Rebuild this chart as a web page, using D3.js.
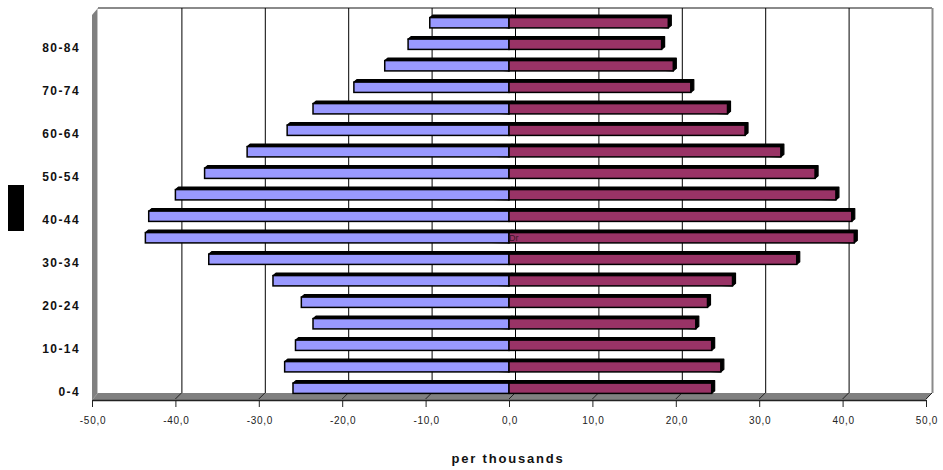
<!DOCTYPE html>
<html>
<head>
<meta charset="utf-8">
<script src="https://cdn.jsdelivr.net/npm/d3@7"></script>
<style>
  html, body { margin: 0; padding: 0; background: #fff; }
  svg { display: block; }
</style>
</head>
<body>
<svg id="chart" width="943" height="470"></svg>
<script>
// Age groups, youngest first
const ageGroups = ["0-4","5-9","10-14","15-19","20-24","25-29","30-34","35-39","40-44",
                   "45-49","50-54","55-59","60-64","65-69","70-74","75-79","80-84","85+"];
// Labelled age groups on the category axis
const ageLabels = ["0-4","10-14","20-24","30-34","40-44","50-54","60-64","70-74","80-84"];
// Males (drawn to the left, negative) per thousand
const males = [-25.9,-26.9,-25.6,-23.5,-24.9,-28.3,-36.0,-43.6,-43.2,
               -40.0,-36.5,-31.4,-26.6,-23.5,-18.6,-14.9,-12.1,-9.5];
// Females (drawn to the right) per thousand
const females = [24.3,25.4,24.3,22.4,23.8,26.8,34.5,41.4,41.1,
                 39.2,36.7,32.6,28.3,26.2,21.8,19.7,18.3,19.1];
// Value axis ticks
const xTicks = [-50,-40,-30,-20,-10,0,10,20,30,40,50];

const svg = d3.select("#chart");
const FONT = "'Liberation Sans', Arial, sans-serif";

// Front plane of the 3-D box and the depth offset to the back wall
const depth = { dx: 6, dy: -7 };
const x = d3.scaleLinear().domain([-50, 50]).range([92, 926]);
const y = d3.scaleBand().domain(ageGroups).range([402, 15]).paddingInner(0.52).paddingOuter(0.26);
const floorY = 400, topY = 15;
const fmt = v => d3.format(".1f")(v).replace(".", ",").replace("−", "-");

// Back wall outline
svg.append("line").attr("x1", x(-50) + depth.dx).attr("x2", x(50) + depth.dx)
  .attr("y1", topY + depth.dy).attr("y2", topY + depth.dy)
  .attr("stroke", "#8a8a8a").attr("stroke-width", 2);
svg.append("line").attr("x1", x(50) + depth.dx + 0.5).attr("x2", x(50) + depth.dx + 0.5)
  .attr("y1", topY + depth.dy).attr("y2", floorY + depth.dy)
  .attr("stroke", "#8a8a8a").attr("stroke-width", 2);

// Gridlines on the back wall
svg.append("g").selectAll("line").data(xTicks.slice(1, -1)).join("line")
  .attr("x1", d => x(d) + depth.dx + 0.5).attr("x2", d => x(d) + depth.dx + 0.5)
  .attr("y1", topY + depth.dy).attr("y2", floorY + depth.dy)
  .attr("stroke", "#000").attr("stroke-width", 1);

// Side wall
svg.append("polygon")
  .attr("points", [[x(-50), topY], [x(-50) + depth.dx, topY + depth.dy],
                   [x(-50) + depth.dx, floorY + depth.dy], [x(-50), floorY]].join(" "))
  .attr("fill", "#808080");
svg.append("line").attr("x1", x(-50) + depth.dx - 0.5).attr("x2", x(-50) + depth.dx - 0.5)
  .attr("y1", topY + depth.dy).attr("y2", floorY + depth.dy)
  .attr("stroke", "#c4c4c4").attr("stroke-width", 1);

// Floor
svg.append("polygon")
  .attr("points", [[x(-50), floorY], [x(-50) + depth.dx, floorY + depth.dy],
                   [x(50) + depth.dx, floorY + depth.dy], [x(50), floorY]].join(" "))
  .attr("fill", "#808080");

// Value axis line, ticks and the depth strokes across the floor
const axis = svg.append("g");
axis.append("line").attr("x1", x(-50)).attr("x2", x(50))
  .attr("y1", floorY + 0.5).attr("y2", floorY + 0.5)
  .attr("stroke", "#222").attr("stroke-width", 1.6);
axis.selectAll(".tick").data(xTicks).join("line")
  .attr("x1", d => x(d) + 0.5).attr("x2", d => x(d) + 0.5)
  .attr("y1", floorY).attr("y2", floorY + 7)
  .attr("stroke", "#222").attr("stroke-width", 1);
axis.selectAll(".slant").data(xTicks.slice(1)).join("line")
  .attr("x1", d => x(d)).attr("x2", d => x(d) + depth.dx)
  .attr("y1", floorY - 1).attr("y2", floorY + depth.dy)
  .attr("stroke", "#222").attr("stroke-width", 1);
axis.selectAll("text").data(xTicks).join("text")
  .attr("x", d => x(d) + 1).attr("y", 424)
  .attr("text-anchor", "middle")
  .attr("font-family", FONT).attr("font-size", 10).attr("letter-spacing", 0.7)
  .attr("fill", "#222")
  .text(fmt);

// Bars with their 3-D top and side faces
const bd = { dx: 3, dy: -2.5 };
const shift = -3;
function drawBars(values, color) {
  const g = svg.append("g");
  values.forEach((v, i) => {
    const c = ageGroups[i];
    const x0 = x(Math.min(0, v)), x1 = x(Math.max(0, v));
    const y0 = y(c) + shift, y1 = y0 + y.bandwidth();
    g.append("polygon")
      .attr("points", [[x0, y0], [x0 + bd.dx, y0 + bd.dy], [x1 + bd.dx, y0 + bd.dy],
                       [x1 + bd.dx, y1 + bd.dy], [x1, y1]].join(" "))
      .attr("fill", "#000").attr("stroke", "#000").attr("stroke-width", 1.2)
      .attr("stroke-linejoin", "round");
    g.append("rect")
      .attr("x", x0).attr("y", y0).attr("width", x1 - x0).attr("height", y1 - y0)
      .attr("fill", color).attr("stroke", "#000").attr("stroke-width", 1.5);
  });
}
drawBars(males, "#9999FF");
drawBars(females, "#993366");

// Stray glyphs at the origin of the 35-39 bar
svg.append("text").attr("x", 509).attr("y", 241)
  .attr("font-family", FONT).attr("font-size", 9).attr("fill", "#3a1426")
  .text("Dr");

// Category axis labels
svg.append("g").selectAll("text").data(ageLabels).join("text")
  .attr("x", 80).attr("y", d => y(d) + y.bandwidth() / 2 + 4.4)
  .attr("text-anchor", "end")
  .attr("font-family", FONT).attr("font-size", 12).attr("font-weight", "bold")
  .attr("letter-spacing", 1.4).attr("fill", "#111")
  .text(d => d);

// Value axis title
svg.append("text").attr("x", 508).attr("y", 463)
  .attr("text-anchor", "middle")
  .attr("font-family", FONT).attr("font-size", 13).attr("font-weight", "bold")
  .attr("letter-spacing", 1.8).attr("fill", "#111")
  .text("per thousands");

// Category axis title block
svg.append("rect").attr("x", 8).attr("y", 185).attr("width", 16).attr("height", 46).attr("fill", "#000");
</script>
</body>
</html>
